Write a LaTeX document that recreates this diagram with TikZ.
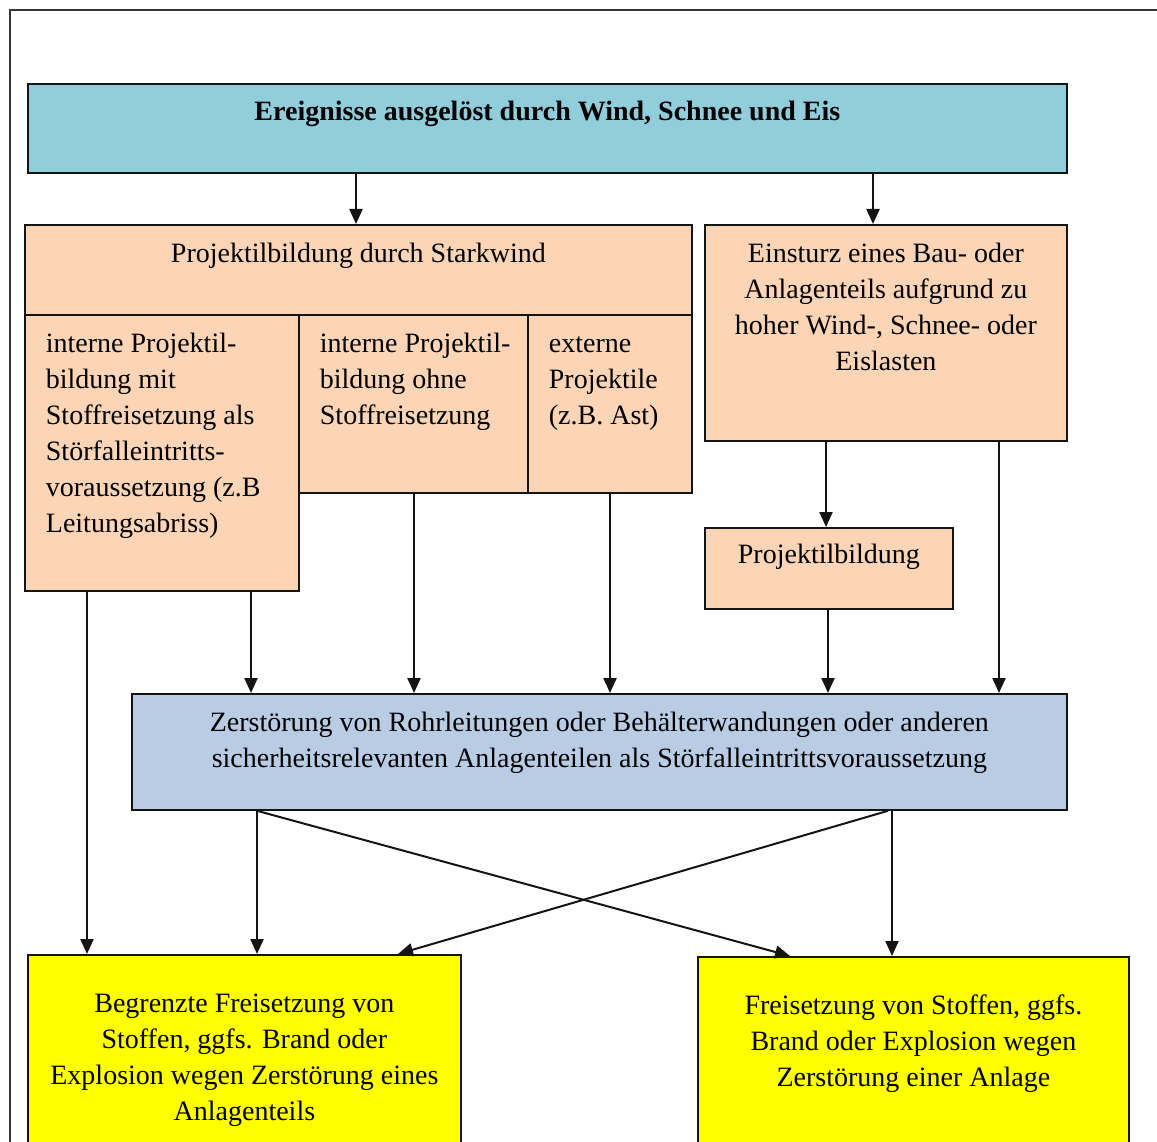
\documentclass[tikz,border=0pt]{standalone}
\usepackage{fontspec}
\setmainfont{Liberation Serif}
\usepackage{tikz}
\usetikzlibrary{arrows.meta}
\definecolor{sky}{HTML}{92CDDC}
\definecolor{peach}{HTML}{FBD5B5}
\definecolor{steel}{HTML}{B8CCE4}
\definecolor{lemon}{HTML}{FFFF00}
\definecolor{ink}{HTML}{141414}
% width, height, alignment, first baseline, text
\newcommand{\boxtext}[5]{\parbox[t][#2pt][t]{#1pt}{#3\rule{0pt}{#4pt}#5}}
\newcommand{\lefttext}{\raggedright\setlength{\leftskip}{21pt}}

\begin{document}
\begin{tikzpicture}[x=1pt,y=-1pt,font=\fontsize{28}{36}\selectfont,
  box/.style={draw=ink,line width=1.8pt,inner sep=0pt,anchor=north west},
  arr/.style={draw=ink,line width=2.3pt,-{Triangle[length=15pt,width=13pt]}},
  diag/.style={draw=ink,line width=2pt,-{Triangle[length=15pt,width=13pt]}}]
  \useasboundingbox (0,0) rectangle (1157,1142);
  % frame
  \draw[ink!85,line width=1.4pt] (10,1150) -- (10,10) -- (1165,10);
  % boxes
  \node[box,fill=sky] (top) at (27,83)
     {\boxtext{1039}{89}{\centering}{37}{\bfseries Ereignisse ausgelöst durch Wind, Schnee und Eis}};
  \node[box,fill=peach] (proj) at (24,224)
     {\boxtext{667}{90}{\centering}{38}{Projektilbildung durch Starkwind}};
  \node[box,fill=peach] (intmit) at (24,314)
     {\boxtext{274}{276}{\lefttext}{38}{interne Projektil-\\bildung mit\\Stoffreisetzung als\\Störfalleintritts-\\voraussetzung (z.B\\Leitungsabriss)}};
  \node[box,fill=peach] (intohne) at (298,314)
     {\boxtext{229}{178}{\lefttext}{38}{interne Projektil-\\bildung ohne\\Stoffreisetzung}};
  \node[box,fill=peach] (extern) at (527,314)
     {\boxtext{164}{178}{\lefttext}{38}{externe\\Projektile\\(z.B. Ast)}};
  \node[box,fill=peach] (einsturz) at (704,224)
     {\boxtext{362}{216}{\centering}{38}{Einsturz eines Bau- oder\\Anlagenteils aufgrund zu\\hoher Wind-, Schnee- oder\\Eislasten}};
  \node[box,fill=peach] (projbild) at (704,527)
     {\boxtext{248}{81}{\centering}{36}{Projektilbildung}};
  \node[box,fill=steel] (zerst) at (131,693)
     {\boxtext{935}{116}{\centering}{38}{Zerstörung von Rohrleitungen oder Behälterwandungen oder anderen\\sicherheitsrelevanten Anlagenteilen als Störfalleintrittsvoraussetzung}};
  \node[box,fill=lemon] (begr) at (27,954)
     {\boxtext{433}{200}{\centering}{58}{Begrenzte Freisetzung von\\Stoffen, ggfs. Brand oder\\Explosion wegen Zerstörung eines\\Anlagenteils}};
  \node[box,fill=lemon] (freis) at (697,956)
     {\boxtext{431}{200}{\centering}{58}{Freisetzung von Stoffen, ggfs.\\Brand oder Explosion wegen\\Zerstörung einer Anlage}};
  % arrows
  \draw[arr] (top.south -| 356,0) -- (proj.north -| 356,0);
  \draw[arr] (top.south -| 873,0) -- (einsturz.north -| 873,0);
  \draw[arr] (intmit.south -| 87,0) -- (begr.north -| 87,0);
  \draw[arr] (intmit.south -| 251,0) -- (zerst.north -| 251,0);
  \draw[arr] (intohne.south -| 414,0) -- (zerst.north -| 414,0);
  \draw[arr] (extern.south -| 610,0) -- (zerst.north -| 610,0);
  \draw[arr] (einsturz.south -| 826,0) -- (projbild.north -| 826,0);
  \draw[arr] (einsturz.south -| 999,0) -- (zerst.north -| 999,0);
  \draw[arr] (projbild.south -| 828,0) -- (zerst.north -| 828,0);
  \draw[arr] (zerst.south -| 257,0) -- (begr.north -| 257,0);
  \draw[arr] (zerst.south -| 892,0) -- (freis.north -| 892,0);
  \draw[diag] (zerst.south -| 257,0) -- (freis.north -| 790,0);
  \draw[diag] (zerst.south -| 888,0) -- (begr.north -| 398,0);
\end{tikzpicture}
\end{document}
